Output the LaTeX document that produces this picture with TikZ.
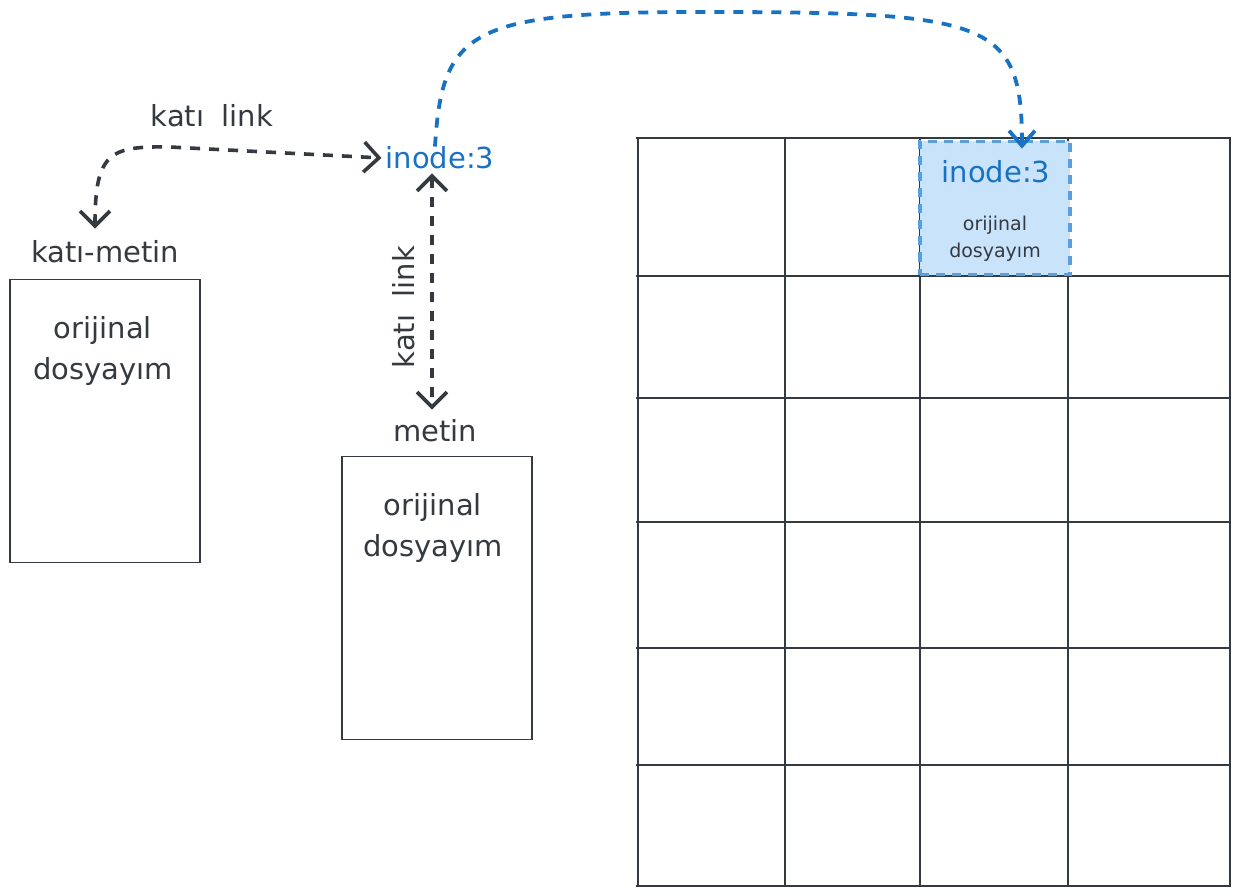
\documentclass[tikz,border=0pt]{standalone}
\usepackage{fontspec}
\setmainfont{DejaVu Sans}
\usetikzlibrary{arrows.meta}
\definecolor{ink}{HTML}{343A40}
\definecolor{blueink}{HTML}{1971C2}
\definecolor{bluefill}{HTML}{C8E3FA}
\definecolor{blueedge}{HTML}{5A9FDB}
\tikzset{
  lbl/.style={font=\fontsize{29}{41}\selectfont, text=ink, inner sep=2pt, align=center},
  bluelbl/.style={lbl, text=blueink},
  smalllbl/.style={font=\fontsize{19}{27}\selectfont, text=ink, inner sep=0pt, align=center},
  filebox/.style={draw=ink, line width=1.4pt, minimum width=190pt, minimum height=283pt, inner sep=0pt},
  darrow/.style={draw=ink, line width=3.6pt, dash pattern=on 10pt off 9pt,
    {Straight Barb[length=15pt,width=30pt,line width=3.6pt]}-{Straight Barb[length=15pt,width=30pt,line width=3.6pt]}},
  barrow/.style={draw=blueink, line width=3.8pt, dash pattern=on 10pt off 9pt,
    -{Straight Barb[length=15pt,width=26pt,line width=3.8pt]}},
  gridline/.style={draw=ink, line width=2.6pt},
  inodebox/.style={fill=bluefill, draw=blueedge, line width=3.8pt, dash pattern=on 9pt off 7pt,
    minimum width=150pt, minimum height=133pt, inner sep=0pt},
}
\begin{document}
\begin{tikzpicture}[x=1pt,y=-1pt]
\useasboundingbox (0,0) rectangle (1245,896);
% grid
\foreach \yy in {138,276,398,522,648,765,886}
  \draw[gridline] (636,\yy) -- (1231,\yy);
\foreach \xx in {638,785,920,1068,1230}
  \draw[gridline] (\xx,138) -- (\xx,886);
% highlighted cell
\node[inodebox] (bluebox) at (995,208) {};
\node[bluelbl] (binode) at (996,172) {inode:3};
\node[smalllbl] (btext) at (995,239) {orijinal\\dosyayım};
% left file
\node[filebox] (leftbox) at (105,421) {};
\node[lbl] (lefttext) at (103,351) {orijinal\\dosyayım};
\node[lbl] (katimetin) at (105,252) {katı-metin};
% middle file
\node[filebox] (midbox) at (437,598) {};
\node[lbl] (midtext) at (433,528) {orijinal\\dosyayım};
\node[lbl] (metin) at (435,431) {metin};
% inode label
\node[bluelbl] (inode) at (440,158) {inode:3};
% links
\node[lbl] (toplink) at (212,116) {katı\hspace{0.6em}link};
\node[lbl, rotate=90] (sidelink) at (404,307) {katı\hspace{0.6em}link};
\draw[darrow] ([xshift=-10pt,yshift=10pt]katimetin.north) .. controls (95,152) and (110,146) .. (170,147) -- ([xshift=-2pt]inode.west);
\draw[darrow] ([xshift=-8pt,yshift=-2pt]inode.south) -- ([xshift=-3pt,yshift=8pt]metin.north);
\draw[barrow] ([xshift=-5pt,yshift=-2pt]inode.north) .. controls (442,30) and (470,12) .. (700,12) .. controls (990,12) and (1022,20) .. ([xshift=27pt,yshift=-9pt]bluebox.north);
\end{tikzpicture}
\end{document}
